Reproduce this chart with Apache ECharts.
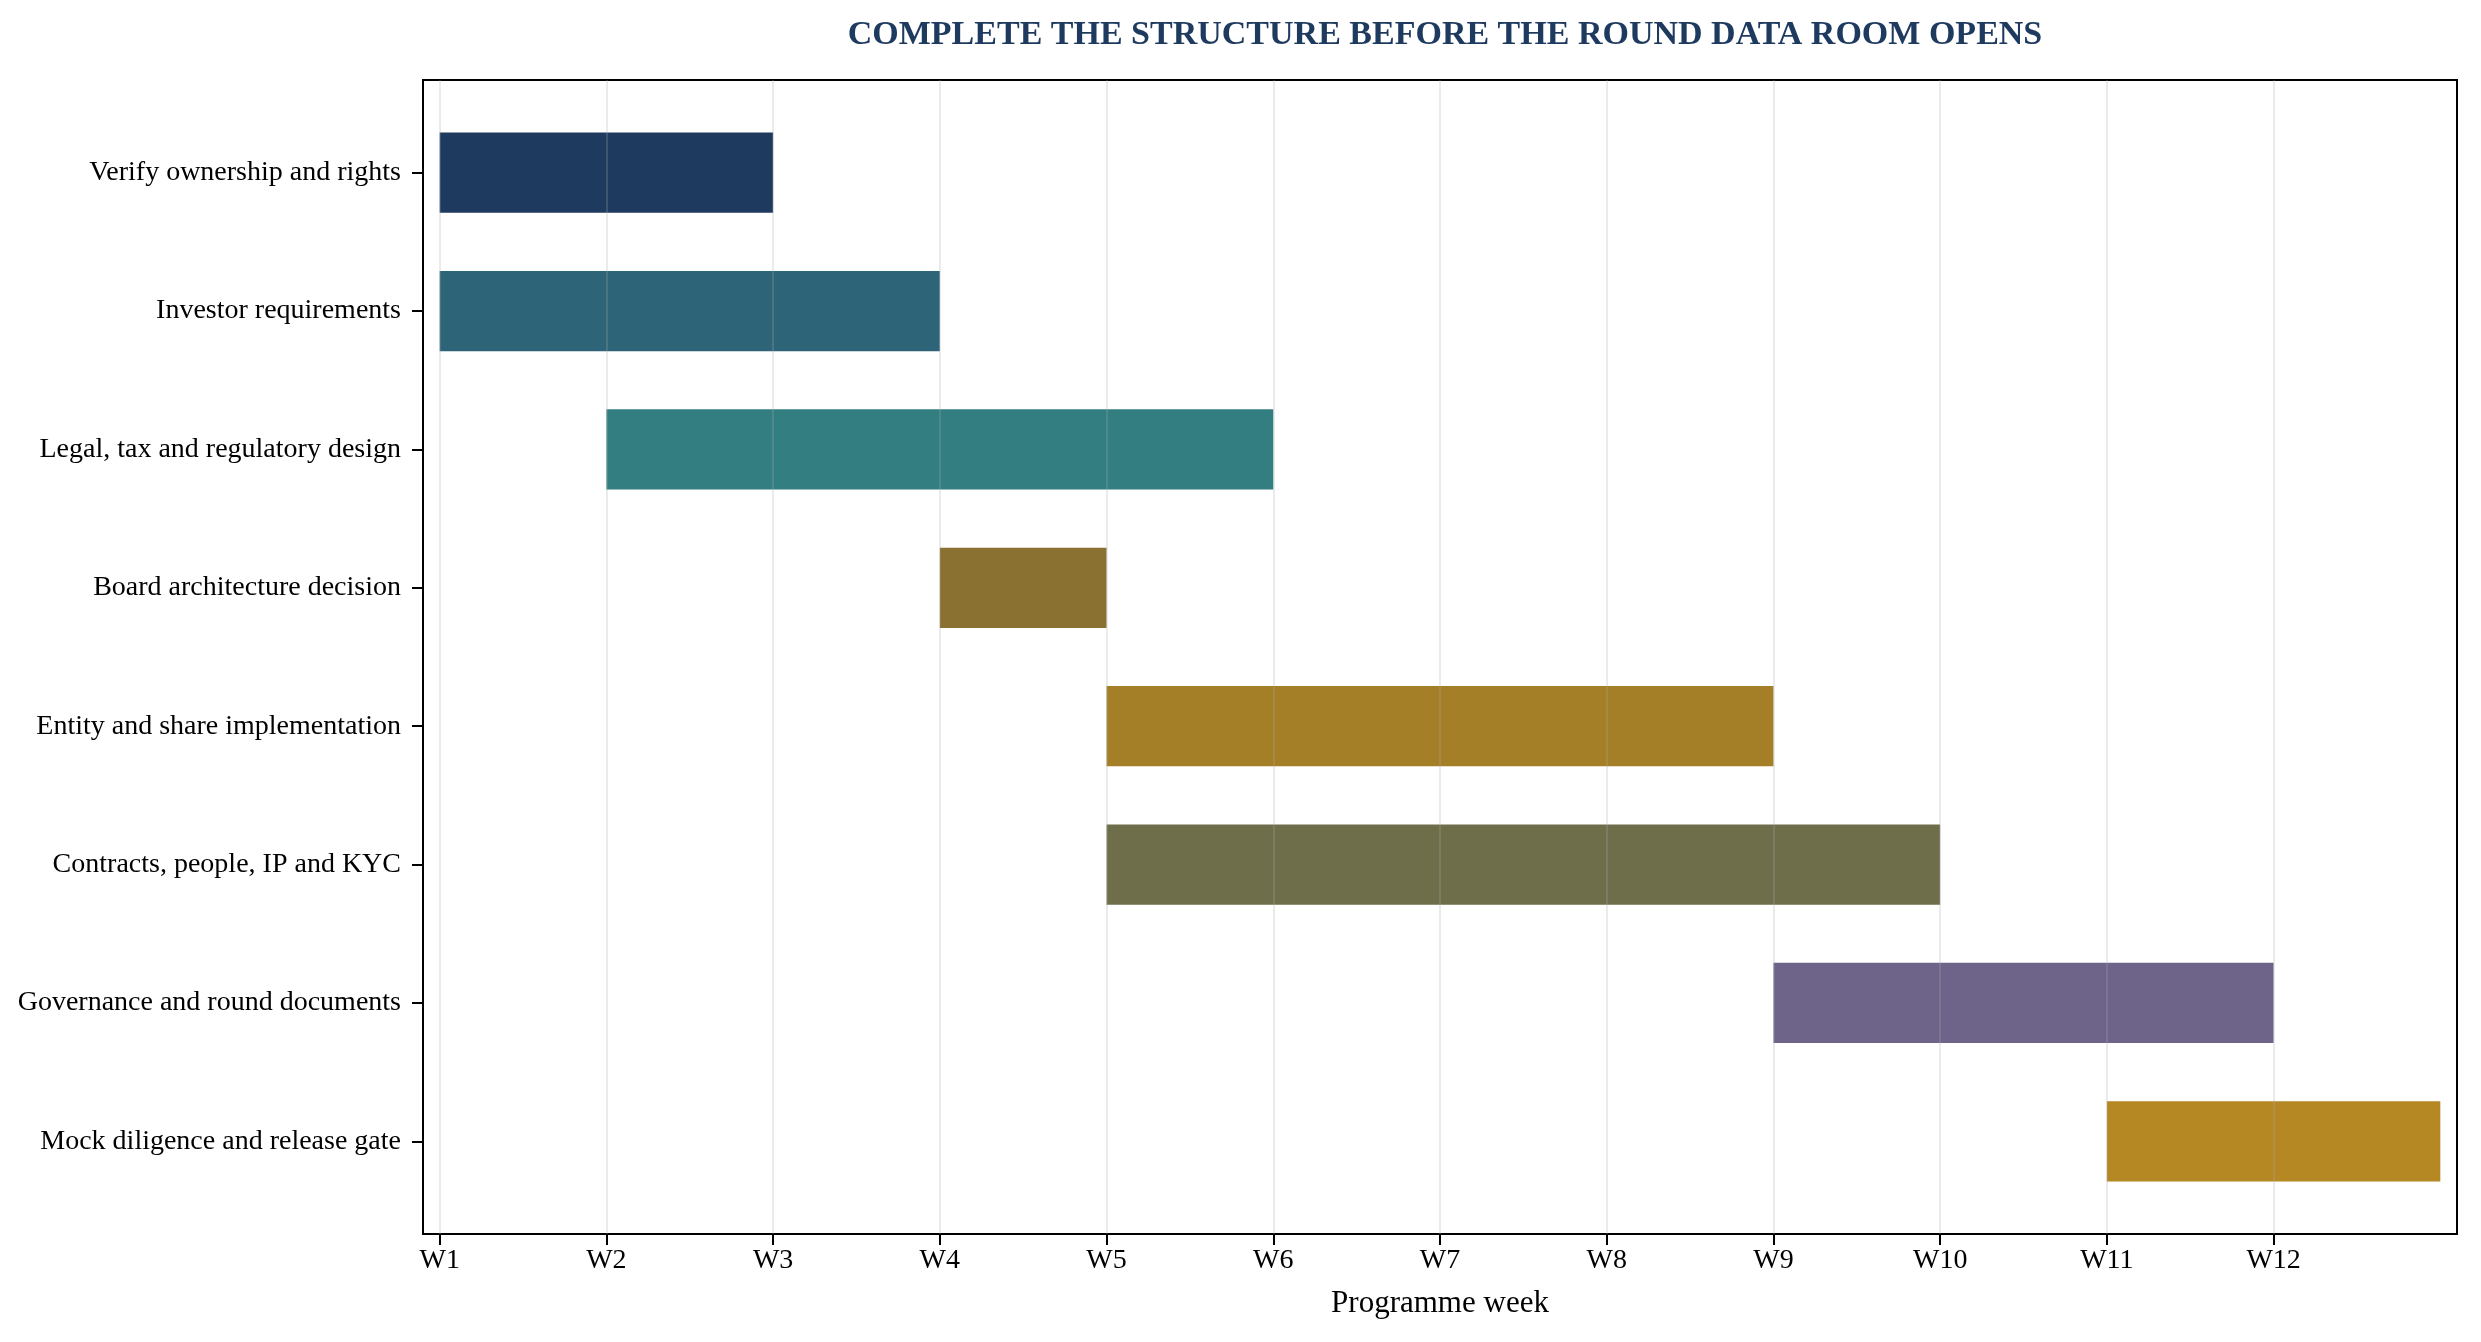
<!DOCTYPE html>
<html>
<head>
<meta charset="utf-8">
<script src="https://cdn.jsdelivr.net/npm/echarts@6/dist/echarts.min.js"></script>
<style>
  html, body { margin: 0; padding: 0; background: #fff; }
  #chart { width: 2481px; height: 1342px; }
</style>
</head>
<body>
<div id="chart"></div>
<script>
  // tasks top to bottom, start / end in week index (0 = W1)
  var tasks = [
    'Verify ownership and rights',
    'Investor requirements',
    'Legal, tax and regulatory design',
    'Board architecture decision',
    'Entity and share implementation',
    'Contracts, people, IP and KYC',
    'Governance and round documents',
    'Mock diligence and release gate'
  ];
  var starts = [0, 0, 1, 3, 4, 4, 8, 10];
  var ends = [2, 3, 5, 4, 8, 9, 11, 12];
  var colors = ['#1f3a5f', '#2e6477', '#337e80', '#8a7131', '#a57f27', '#6f6e4b', '#6e648a', '#b58823'];
  var weekLabels = ['W1', 'W2', 'W3', 'W4', 'W5', 'W6', 'W7', 'W8', 'W9', 'W10', 'W11', 'W12'];

  var weekValues = weekLabels.map(function (w, i) { return i; });
  var rowValues = tasks.map(function (t, i) { return i; });

  var data = tasks.map(function (t, i) {
    return {
      value: [starts[i], ends[i], i],
      itemStyle: { color: colors[i] }
    };
  });

  var font = '"Liberation Serif", "Times New Roman", serif';

  var chart = echarts.init(document.getElementById('chart'));
  chart.setOption({
    backgroundColor: '#fff',
    animation: false,
    title: {
      text: 'COMPLETE THE STRUCTURE BEFORE THE ROUND DATA ROOM OPENS',
      left: 1440,
      top: 13,
      textAlign: 'center',
      textStyle: { fontFamily: font, fontSize: 34, fontWeight: 'bold', color: '#1f3a5f' }
    },
    grid: {
      left: 423, right: 24, top: 80, bottom: 108,
      show: true, borderColor: '#000', borderWidth: 2, backgroundColor: 'transparent'
    },
    xAxis: {
      type: 'value',
      min: -0.1,
      max: 12.1,
      name: 'Programme week',
      nameLocation: 'middle',
      nameGap: 54,
      nameTextStyle: { fontFamily: font, fontSize: 31, color: '#000' },
      axisLine: { show: false, onZero: false },
      splitLine: { show: false },
      axisTick: { show: true, customValues: weekValues, length: 11, lineStyle: { color: '#000', width: 2 } },
      axisLabel: {
        customValues: weekValues,
        margin: 13,
        fontFamily: font, fontSize: 28, color: '#000',
        formatter: function (v) { return weekLabels[Math.round(v)]; }
      }
    },
    yAxis: {
      type: 'value',
      inverse: true,
      min: -0.67,
      max: 7.67,
      axisLine: { show: false, onZero: false },
      splitLine: { show: false },
      axisTick: { show: true, customValues: rowValues, length: 11, lineStyle: { color: '#000', width: 2 } },
      axisLabel: {
        customValues: rowValues,
        margin: 22,
        fontFamily: font, fontSize: 28, color: '#000',
        formatter: function (v) { return tasks[Math.round(v)]; }
      }
    },
    series: [{
      type: 'custom',
      data: data,
      encode: { x: [0, 1], y: 2 },
      renderItem: function (params, api) {
        var s = api.coord([api.value(0), api.value(2)]);
        var e = api.coord([api.value(1), api.value(2)]);
        var h = api.size([0, 0.58])[1];
        return {
          type: 'rect',
          shape: { x: s[0], y: s[1] - h / 2, width: e[0] - s[0], height: h },
          style: { fill: api.visual('color') }
        };
      },
      z: 2,
      markLine: {
        silent: true,
        symbol: 'none',
        z: 5,
        label: { show: false },
        lineStyle: { color: 'rgba(170,170,170,0.24)', width: 2, type: 'solid' },
        data: weekValues.map(function (v) { return { xAxis: v }; })
      }
    }]
  });
</script>
</body>
</html>
